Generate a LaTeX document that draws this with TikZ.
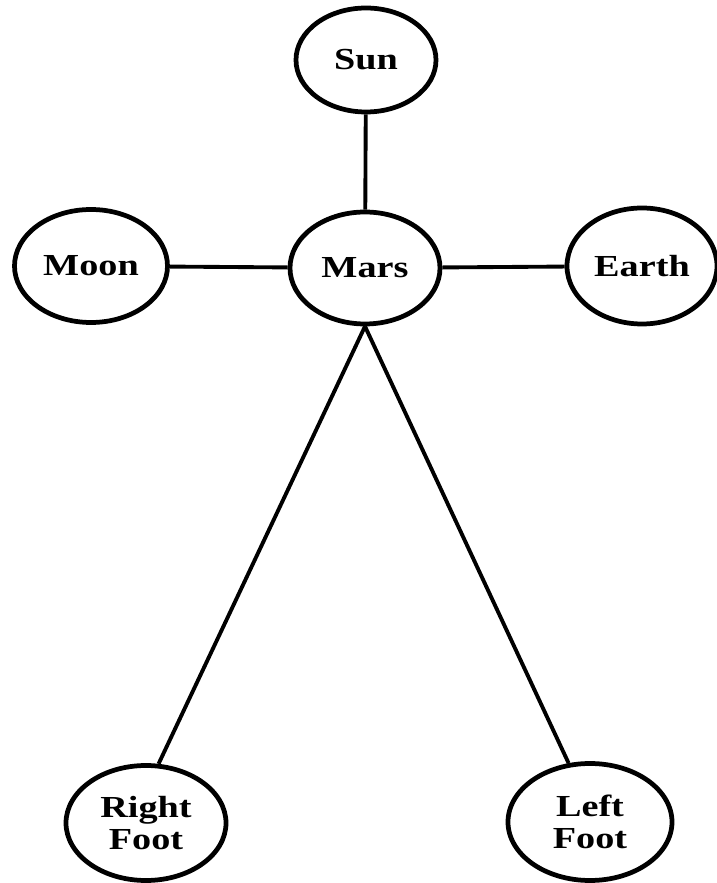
\documentclass[tikz,border=0pt]{standalone}
\usepackage{fontspec}
\usepackage{tikz}
\usetikzlibrary{shapes.geometric}
\newfontfamily\planetfont{Liberation Serif}[FakeStretch=1.25]

\tikzset{
  planet/.style={ellipse,draw,line width=1.35pt,inner sep=0pt,align=center,
    font=\planetfont\bfseries\fontsize{8.7}{9}\selectfont},
  link/.style={line width=1.1pt}
}

\begin{document}
\begin{tikzpicture}
  \useasboundingbox (0,0) rectangle (7.17,8.83);
  % 中心与上方、左右三个节点
  \node (mars)  [planet,minimum width=1.50cm,minimum height=1.12cm] at (3.65,6.15) {Mars};
  \node (sun)   [planet,minimum width=1.40cm,minimum height=1.04cm] at (3.66,8.23) {Sun};
  \node (moon)  [planet,minimum width=1.53cm,minimum height=1.13cm] at (0.91,6.17) {Moon};
  \node (earth) [planet,minimum width=1.50cm,minimum height=1.16cm] at (6.42,6.17) {Earth};
  % 下方两只脚
  \node (rfoot) [planet,minimum width=1.60cm,minimum height=1.15cm] at (1.46,0.60) {Right\\Foot};
  \node (lfoot) [planet,minimum width=1.64cm,minimum height=1.17cm] at (5.90,0.61) {Left\\Foot};
  \draw[link] (sun) -- (mars);
  \draw[link] (moon) -- (mars) -- (earth);
  \draw[link] (mars.south) -- (rfoot.78);
  \draw[link] (mars.south) -- (lfoot.110);
\end{tikzpicture}
\end{document}
